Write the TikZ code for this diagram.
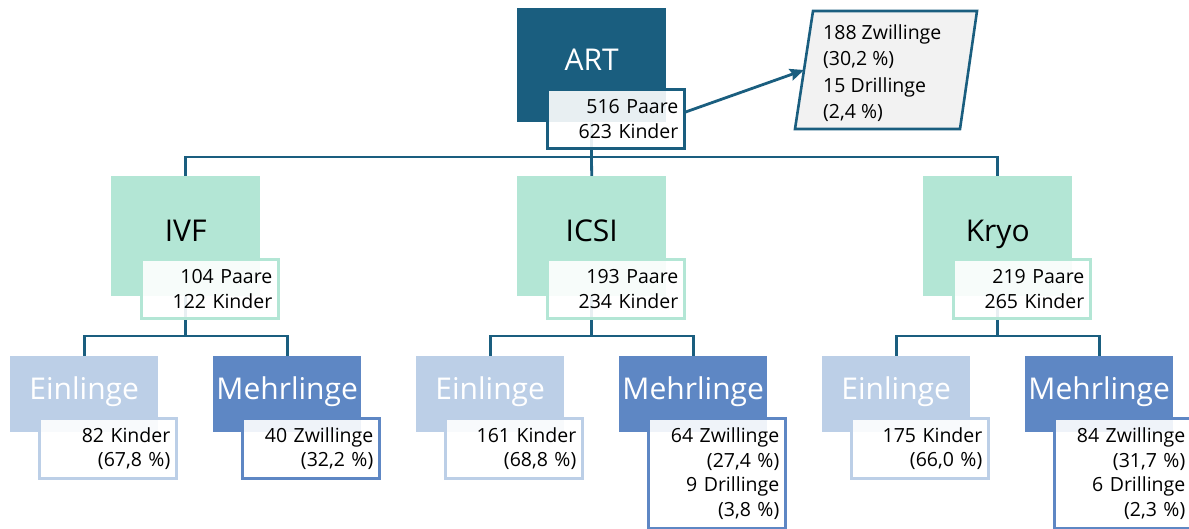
\documentclass[tikz,border=0pt]{standalone}
\usepackage{fontspec}
\setmainfont{Open Sans}
\usetikzlibrary{arrows.meta,positioning}

\definecolor{artBlue}{HTML}{1A5E7F}
\definecolor{methMint}{HTML}{B3E6D5}
\definecolor{einBlue}{HTML}{BCCFE7}
\definecolor{mehrBlue}{HTML}{5E87C4}
\definecolor{boxGray}{HTML}{F2F2F2}

\pgfdeclarelayer{bg}
\pgfsetlayers{bg,main}

\begin{document}
\begin{tikzpicture}[
    x=1pt, y=-1pt,
    big/.style={font=\fontsize{30}{36}\selectfont, text height=23pt, text depth=13pt,
        inner sep=0pt, minimum width=149pt, anchor=north west},
    artbox/.style={big, fill=artBlue, text=white, minimum height=114pt},
    methbox/.style={big, fill=methMint, text=black, minimum height=120pt},
    einbox/.style={big, fill=einBlue, text=white, minimum width=148pt, minimum height=76pt},
    mehrbox/.style={big, fill=mehrBlue, text=white, minimum width=148pt, minimum height=76pt},
    info/.style={font=\fontsize{19.5}{24.5}\selectfont, draw=#1, line width=2.6pt,
        fill=white, fill opacity=0.9, text opacity=1, text=black,
        text width=125pt, inner xsep=6pt, inner ysep=2pt, align=right,
        anchor=north west},
    conn/.style={artBlue, line width=2.8pt},
]

\useasboundingbox (0,0) rectangle (1189,529);

% Top: ART
\node[artbox] (art) at (517,8) {ART};
\node[info=artBlue, minimum height=59pt, xshift=29pt, yshift=34pt]
    (artinfo) at (art.south west) {516 Paare\\623 Kinder};

% Multiples box (parallelogram)
\coordinate (twinsleft) at (804,70);
\filldraw[fill=boxGray, draw=artBlue, line width=2.6pt]
    (813,11) -- (977,11) -- (960,129) -- (795,129) -- cycle;
\node[font=\fontsize{19.5}{26.5}\selectfont, align=left, anchor=north west, inner sep=0pt]
    (twins) at (823,24) {188 Zwillinge\\(30,2 \%)\\15 Drillinge\\(2,4 \%)};
\draw[conn, -{Stealth[length=14pt, width=12pt, inset=2pt]}] (artinfo.east |- 0,112) -- (twinsleft);

% Level 2: methods
\node[methbox] (ivf)  at (111,176) {IVF};
\node[methbox] (icsi) at (517,176) {ICSI};
\node[methbox] (kryo) at (923,176) {Kryo};
\node[info=methMint, minimum height=59pt, xshift=29pt, yshift=38pt]
    (ivfinfo) at (ivf.south west) {104 Paare\\122 Kinder};
\node[info=methMint, minimum height=59pt, xshift=29pt, yshift=38pt]
    (icsiinfo) at (icsi.south west) {193 Paare\\234 Kinder};
\node[info=methMint, minimum height=59pt, xshift=29pt, yshift=38pt]
    (kryoinfo) at (kryo.south west) {219 Paare\\265 Kinder};

% Level 3: singles / multiples
\node[einbox]  (ivfein)   at (10,356)  {Einlinge};
\node[mehrbox] (ivfmehr)  at (213,356) {Mehrlinge};
\node[einbox]  (icsiein)  at (416,356) {Einlinge};
\node[mehrbox] (icsimehr) at (619,356) {Mehrlinge};
\node[einbox]  (kryoein)  at (822,356) {Einlinge};
\node[mehrbox] (kryomehr) at (1025,356) {Mehrlinge};

\node[info=einBlue, minimum height=60pt, xshift=28pt, yshift=15pt]
    (ivfeininfo) at (ivfein.south west) {82 Kinder\\(67,8 \%)};
\node[info=mehrBlue, minimum height=60pt, xshift=28pt, yshift=15pt]
    (ivfmehrinfo) at (ivfmehr.south west) {40 Zwillinge\\(32,2 \%)};
\node[info=einBlue, minimum height=60pt, xshift=28pt, yshift=15pt]
    (icsieininfo) at (icsiein.south west) {161 Kinder\\(68,8 \%)};
\node[info=mehrBlue, minimum height=110pt, xshift=28pt, yshift=15pt]
    (icsimehrinfo) at (icsimehr.south west) {64 Zwillinge\\(27,4 \%)\\9 Drillinge\\(3,8 \%)};
\node[info=einBlue, minimum height=60pt, xshift=28pt, yshift=15pt]
    (kryoeininfo) at (kryoein.south west) {175 Kinder\\(66,0 \%)};
\node[info=mehrBlue, minimum height=110pt, xshift=28pt, yshift=15pt]
    (kryomehrinfo) at (kryomehr.south west) {84 Zwillinge\\(31,7 \%)\\6 Drillinge\\(2,3 \%)};

% Connectors (behind the boxes)
\begin{pgfonlayer}{bg}
\coordinate (artbus)  at (591.5,157);
\coordinate (ivfbus)  at (185.5,336);
\coordinate (icsibus) at (591.5,336);
\coordinate (kryobus) at (997.5,336);
\draw[conn] (art) -- (artbus);
\draw[conn] (artbus) -| (ivf.north);
\draw[conn] (artbus) -- (icsi.north);
\draw[conn] (artbus) -| (kryo.north);
\draw[conn] (ivf) -- (ivfbus);
\draw[conn] (ivfbus) -| (ivfein.north);
\draw[conn] (ivfbus) -| (ivfmehr.north);
\draw[conn] (icsi) -- (icsibus);
\draw[conn] (icsibus) -| (icsiein.north);
\draw[conn] (icsibus) -| (icsimehr.north);
\draw[conn] (kryo) -- (kryobus);
\draw[conn] (kryobus) -| (kryoein.north);
\draw[conn] (kryobus) -| (kryomehr.north);
\end{pgfonlayer}

\end{tikzpicture}
\end{document}
